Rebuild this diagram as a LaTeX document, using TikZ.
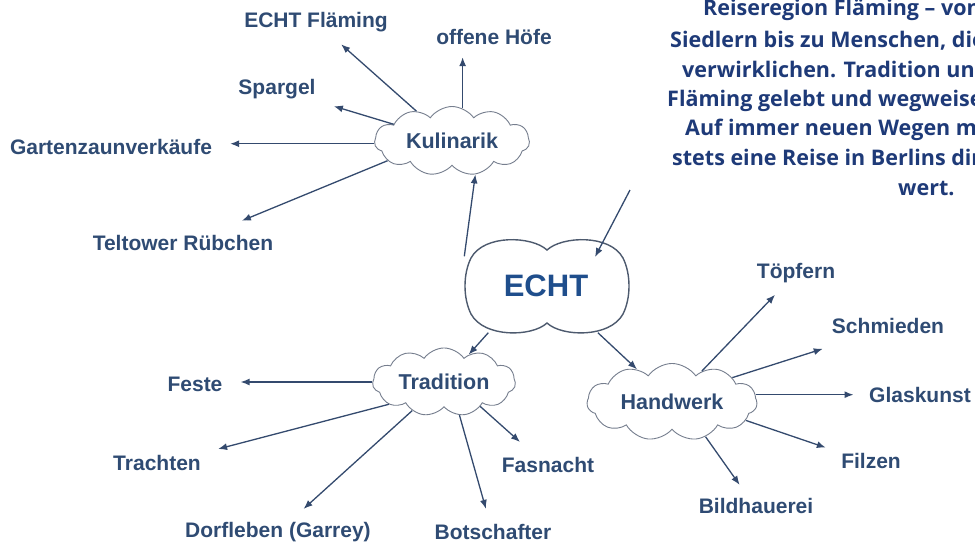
\documentclass[tikz,border=0pt]{standalone}
\usepackage{fontspec}
\setmainfont{Liberation Sans}
\newfontfamily\parafont{Open Sans}
\usetikzlibrary{shapes.symbols,arrows.meta}
\definecolor{lab}{HTML}{2F4B73}
\definecolor{arrc}{HTML}{344A6E}
\definecolor{para}{HTML}{1E3A78}
\definecolor{echtc}{HTML}{1F4E8C}
\definecolor{cloudc}{HTML}{767E8E}
\definecolor{echto}{HTML}{4D5A6E}
\begin{document}
\begin{tikzpicture}[x=1pt,y=-1pt,
  lbl/.style={font=\bfseries\fontsize{21}{22}\selectfont, text=lab, inner sep=2pt, text height=15pt, text depth=4pt},
  cl/.style={cloud, cloud puffs=11, cloud puff arc=110, aspect=2.5, draw=cloudc, line width=0.9pt, fill=white, inner sep=0pt, font=\bfseries\fontsize{21.5}{23}\selectfont, text=lab},
  con/.style={draw=arrc, line width=1.3pt, -{Latex[length=9pt,width=7pt]}},
  ptxt/.style={font=\parafont\bfseries\fontsize{21.5}{30}\selectfont, text=para, anchor=base west, inner sep=0pt}
]
\useasboundingbox (0,0) rectangle (975,542);
\clip (0,0) rectangle (975,542);
\fill[white] (0,0) rectangle (975,542);

% paragraph (cut at the right edge)
\node[ptxt] (p1) at (703,15.5) {Reiseregion Fläming – von};
\node[ptxt] (p2) at (670,47) {Siedlern bis zu Menschen, die};
\node[ptxt] (p3) at (682,77) {verwirklichen. Tradition und};
\node[ptxt] (p4) at (667,106.5) {Fläming gelebt und wegweise};
\node[ptxt] (p5) at (685,135.5) {Auf immer neuen Wegen m};
\node[ptxt] (p6) at (672,165.5) {stets eine Reise in Berlins dir};
\node[ptxt] (p7) at (898,195.5) {wert.};

% central shape
\draw[draw=echto, line width=1.4pt, fill=white] (547,250) .. controls (532,236) and (484,234) .. (471,258) .. controls (463,274) and (463,298) .. (471,314) .. controls (484,338) and (532,337) .. (547,323) .. controls (562,337) and (610,338) .. (623,314) .. controls (631,298) and (631,274) .. (623,258) .. controls (610,234) and (562,236) .. cycle;
\node[rectangle, minimum width=163pt, minimum height=93pt, inner sep=0pt, font=\bfseries\fontsize{31}{33}\selectfont, text=echtc] (echt) at (546,286) {ECHT};

% clouds
\node[cl, minimum width=155pt, minimum height=62pt] (kul) at (452,141) {Kulinarik};
\node[cl, minimum width=143pt, minimum height=59pt] (trad) at (444,382) {Tradition};
\node[cl, minimum width=170pt, minimum height=60pt] (hw) at (672,402) {Handwerk};

% labels
\node[lbl] (ef) at (316,22) {ECHT Fläming};
\node[lbl] (oh) at (494,39) {offene Höfe};
\node[lbl] (sp) at (277,89) {Spargel};
\node[lbl] (gz) at (111,149) {Gartenzaunverkäufe};
\node[lbl] (tr) at (183,245) {Teltower Rübchen};
\node[lbl] (fe) at (195,386) {Feste};
\node[lbl] (tc) at (157,465) {Trachten};
\node[lbl] (df) at (278,532) {Dorfleben (Garrey)};
\node[lbl] (bo) at (493,534) {Botschafter};
\node[lbl] (fa) at (548,467) {Fasnacht};
\node[lbl] (tp) at (796,273) {Töpfern};
\node[lbl] (sm) at (888,328) {Schmieden};
\node[lbl] (gk) at (920,397) {Glaskunst};
\node[lbl] (fz) at (871,463) {Filzen};
\node[lbl] (bh) at (756,508) {Bildhauerei};

% connectors
\coordinate (ein) at (630,190);
\draw[con] (ein) -- ([shift={(49,-29)}]echt.center);
\draw[con] (echt.160) -- (kul.305);
\draw[con] (echt.219) -- (trad);
\draw[con] (echt.318.5) -- (hw);

\draw[con, shorten >=16pt] (kul.140) -- (ef);
\draw[con, shorten >=6.5pt] (kul.72) -- (kul.72 |- oh.south);
\draw[con, shorten >=19pt] (kul.164) -- (sp);
\draw[con, shorten >=16pt] (kul.182) -- (kul.182 -| gz.east);
\draw[con, shorten >=33pt] (kul.197) -- (tr);

\draw[con, shorten >=16pt] (trad.west) -- (trad.west -| fe.east);
\draw[con, shorten >=17pt] (trad.202) -- (tc);
\draw[con, shorten >=17pt] (trad.222) -- (df);
\draw[con, shorten >=14pt] (trad.295) -- (bo);
\draw[con, shorten >=20pt] (trad.326) -- (fa);

\draw[con, shorten >=14pt] (hw.46) -- (tp);
\draw[con, shorten >=30pt] (hw.22) -- (sm);
\draw[con, shorten >=13.5pt] (hw.5) -- (hw.5 -| gk.west);
\draw[con, shorten >=14pt] (hw.346) -- (fz);
\draw[con, shorten >=14pt] (hw.314) -- (bh);
\end{tikzpicture}
\end{document}
